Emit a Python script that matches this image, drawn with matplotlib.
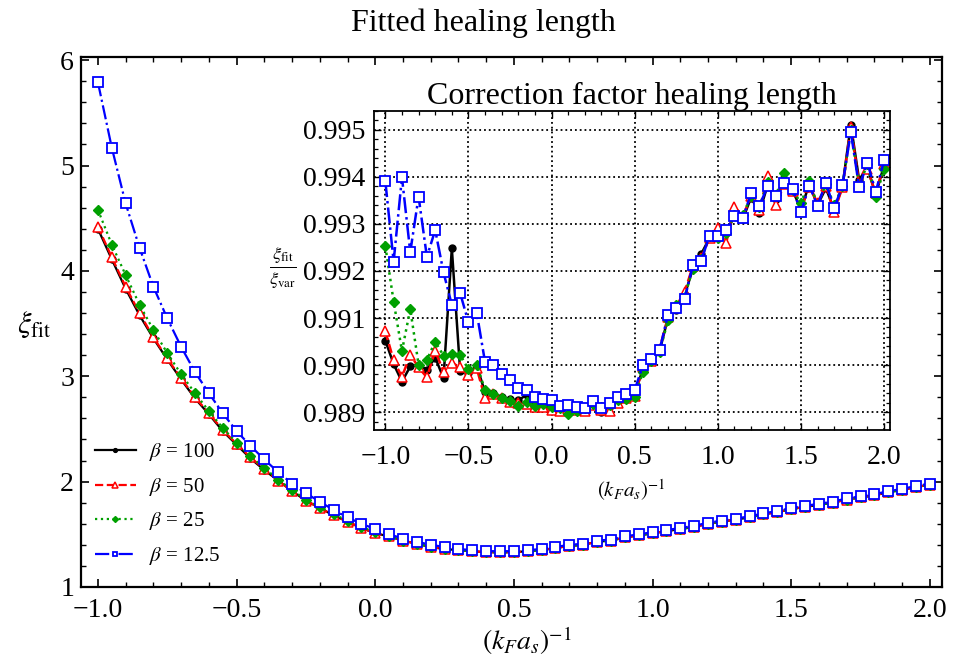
import numpy as np
import matplotlib
matplotlib.use("Agg")
import matplotlib.pyplot as plt
from matplotlib.ticker import MultipleLocator, FuncFormatter

plt.rcParams['font.family'] = ['Liberation Serif', 'DejaVu Serif']
plt.rcParams['mathtext.fontset'] = 'stix'

# x grid (k_F a_s)^-1, same for all series
x_vals = [-1.00, -0.95, -0.90, -0.85, -0.80, -0.75, -0.70, -0.65, -0.60, -0.55,
          -0.50, -0.45, -0.40, -0.35, -0.30, -0.25, -0.20, -0.15, -0.10, -0.05,
          0.00, 0.05, 0.10, 0.15, 0.20, 0.25, 0.30, 0.35, 0.40, 0.45,
          0.50, 0.55, 0.60, 0.65, 0.70, 0.75, 0.80, 0.85, 0.90, 0.95,
          1.00, 1.05, 1.10, 1.15, 1.20, 1.25, 1.30, 1.35, 1.40, 1.45,
          1.50, 1.55, 1.60, 1.65, 1.70, 1.75, 1.80, 1.85, 1.90, 1.95, 2.00]

labels = [r'$\beta$ = 100', r'$\beta$ = 50', r'$\beta$ = 25', r'$\beta$ = 12.5']

# fitted healing length (main plot)
xi_b100 = [4.40, 4.11, 3.83, 3.58, 3.36, 3.16, 2.97, 2.79, 2.64, 2.48,
           2.35, 2.22, 2.11, 2.01, 1.91, 1.82, 1.75, 1.68, 1.62, 1.56,
           1.51, 1.48, 1.44, 1.41, 1.38, 1.36, 1.35, 1.34, 1.33, 1.33,
           1.33, 1.34, 1.35, 1.37, 1.39, 1.40, 1.43, 1.44, 1.47, 1.49,
           1.51, 1.53, 1.55, 1.57, 1.60, 1.62, 1.64, 1.66, 1.69, 1.71,
           1.74, 1.76, 1.78, 1.80, 1.83, 1.85, 1.87, 1.90, 1.92, 1.95, 1.97]
xi_b50 = [4.42, 4.13, 3.85, 3.60, 3.37, 3.17, 2.98, 2.80, 2.65, 2.49,
          2.36, 2.23, 2.12, 2.01, 1.91, 1.82, 1.75, 1.68, 1.62, 1.56,
          1.51, 1.48, 1.44, 1.41, 1.38, 1.36, 1.35, 1.34, 1.33, 1.33,
          1.33, 1.34, 1.35, 1.37, 1.39, 1.40, 1.43, 1.44, 1.47, 1.49,
          1.51, 1.53, 1.55, 1.57, 1.60, 1.62, 1.64, 1.66, 1.69, 1.71,
          1.74, 1.76, 1.78, 1.80, 1.83, 1.85, 1.87, 1.90, 1.92, 1.95, 1.97]
xi_b25 = [4.58, 4.25, 3.96, 3.68, 3.44, 3.22, 3.02, 2.84, 2.67, 2.51,
          2.37, 2.24, 2.13, 2.02, 1.92, 1.83, 1.76, 1.69, 1.63, 1.57,
          1.52, 1.48, 1.44, 1.41, 1.38, 1.36, 1.35, 1.34, 1.33, 1.33,
          1.33, 1.34, 1.35, 1.37, 1.39, 1.40, 1.43, 1.44, 1.47, 1.49,
          1.51, 1.53, 1.55, 1.57, 1.60, 1.62, 1.64, 1.66, 1.69, 1.71,
          1.74, 1.76, 1.78, 1.80, 1.83, 1.85, 1.87, 1.90, 1.92, 1.95, 1.97]
xi_b12 = [5.79, 5.17, 4.64, 4.22, 3.85, 3.55, 3.28, 3.04, 2.84, 2.65,
          2.48, 2.34, 2.21, 2.09, 1.98, 1.89, 1.81, 1.73, 1.66, 1.60,
          1.55, 1.50, 1.46, 1.43, 1.40, 1.38, 1.36, 1.35, 1.34, 1.34,
          1.34, 1.35, 1.36, 1.38, 1.40, 1.41, 1.44, 1.45, 1.48, 1.50,
          1.52, 1.54, 1.56, 1.58, 1.61, 1.63, 1.65, 1.67, 1.70, 1.72,
          1.75, 1.77, 1.79, 1.81, 1.84, 1.86, 1.88, 1.91, 1.93, 1.96, 1.98]

# correction factor xi_fit / xi_var (inset)
cf_b100 = [0.99052, 0.99002, 0.98965, 0.98997, 0.99001, 0.98990, 0.99016, 0.98972, 0.99248, 0.98988,
           0.98984, 0.98998, 0.98942, 0.98940, 0.98932, 0.98927, 0.98925, 0.98937, 0.98915, 0.98914,
           0.98906, 0.98906, 0.98908, 0.98910, 0.98906, 0.98918, 0.98901, 0.98912, 0.98924, 0.98933,
           0.98940, 0.98992, 0.99010, 0.99030, 0.99100, 0.99118, 0.99148, 0.99205, 0.99236, 0.99270,
           0.99272, 0.99280, 0.99318, 0.99310, 0.99356, 0.99324, 0.99383, 0.99352, 0.99392, 0.99372,
           0.99330, 0.99385, 0.99340, 0.99376, 0.99330, 0.99380, 0.99511, 0.99394, 0.99420, 0.99362, 0.99425]
cf_b50 = [0.99072, 0.99010, 0.98975, 0.99022, 0.98995, 0.98974, 0.99030, 0.98986, 0.99005, 0.98995,
          0.98978, 0.98993, 0.98929, 0.98938, 0.98930, 0.98922, 0.98920, 0.98918, 0.98910, 0.98910,
          0.98905, 0.98903, 0.98906, 0.98905, 0.98902, 0.98915, 0.98904, 0.98903, 0.98920, 0.98930,
          0.98935, 0.98995, 0.99008, 0.99035, 0.99102, 0.99125, 0.99156, 0.99210, 0.99228, 0.99270,
          0.99291, 0.99259, 0.99337, 0.99315, 0.99360, 0.99330, 0.99401, 0.99340, 0.99385, 0.99370,
          0.99332, 0.99378, 0.99345, 0.99380, 0.99326, 0.99378, 0.99507, 0.99385, 0.99416, 0.99365, 0.99428]
cf_b25 = [0.99253, 0.99135, 0.99030, 0.99119, 0.99001, 0.99011, 0.99050, 0.99020, 0.99023, 0.99022,
          0.98991, 0.99001, 0.98947, 0.98938, 0.98931, 0.98924, 0.98912, 0.98922, 0.98913, 0.98917,
          0.98910, 0.98908, 0.98895, 0.98902, 0.98908, 0.98918, 0.98910, 0.98915, 0.98925, 0.98928,
          0.98933, 0.98985, 0.99008, 0.99028, 0.99095, 0.99128, 0.99145, 0.99205, 0.99225, 0.99275,
          0.99270, 0.99280, 0.99320, 0.99318, 0.99360, 0.99335, 0.99390, 0.99362, 0.99408, 0.99372,
          0.99344, 0.99392, 0.99340, 0.99385, 0.99340, 0.99380, 0.99500, 0.99380, 0.99428, 0.99357, 0.99416]
cf_b12 = [0.99391, 0.99220, 0.99399, 0.99240, 0.99358, 0.99230, 0.99287, 0.99197, 0.99128, 0.99153,
          0.99091, 0.99111, 0.99006, 0.99001, 0.98980, 0.98968, 0.98952, 0.98948, 0.98932, 0.98927,
          0.98925, 0.98913, 0.98916, 0.98911, 0.98909, 0.98923, 0.98908, 0.98920, 0.98932, 0.98939,
          0.98947, 0.99000, 0.99012, 0.99032, 0.99107, 0.99122, 0.99140, 0.99212, 0.99222, 0.99275,
          0.99275, 0.99287, 0.99316, 0.99312, 0.99365, 0.99338, 0.99381, 0.99360, 0.99388, 0.99374,
          0.99326, 0.99381, 0.99339, 0.99387, 0.99333, 0.99382, 0.99496, 0.99378, 0.99430, 0.99368, 0.99435]

green = '#00a000'
styles = [
    dict(color='black', ls='-', marker='o', ms=5, mfc='black', mew=1.0),
    dict(color='red', ls='--', marker='^', ms=7, mfc='white', mew=1.1),
    dict(color=green, ls=':', marker='D', ms=5.5, mfc=green, mew=1.0),
    dict(color='blue', ls='-.', marker='s', ms=6.5, mfc='white', mew=1.3),
]

def fmt(decimals):
    # real minus sign like the original
    return FuncFormatter(lambda v, pos: f'{v:.{decimals}f}'.replace('-', '\u2212'))

fig = plt.figure(figsize=(9.62, 6.70), dpi=100)

# main axes
ax = fig.add_axes([0.0842, 0.1239, 0.8948, 0.7910])
for ys, st, lab in zip([xi_b100, xi_b50, xi_b25, xi_b12], styles, labels):
    ax.plot(x_vals, ys, lw=1.6, label=lab, **st)
ax.set_xlim(-1.061, 2.043)
ax.set_ylim(1, 6.03)
ax.xaxis.set_major_locator(MultipleLocator(0.5))
ax.xaxis.set_minor_locator(MultipleLocator(0.1))
ax.yaxis.set_major_locator(MultipleLocator(1))
ax.yaxis.set_minor_locator(MultipleLocator(0.2))
ax.xaxis.set_major_formatter(fmt(1))
ax.yaxis.set_major_formatter(fmt(0))
ax.tick_params(which='both', direction='in', top=True, right=True, labelsize=20)
ax.tick_params(which='major', length=6, width=1.2)
ax.tick_params(axis='x', which='major', pad=8)
ax.tick_params(axis='y', which='major', pad=5)
ax.tick_params(which='minor', length=3.5, width=1.0)
for sp in ax.spines.values():
    sp.set_linewidth(1.6)

leg = ax.legend(loc='upper left', bbox_to_anchor=(-0.006, 0.31), frameon=False,
                fontsize=15, handlelength=2.0, handletextpad=0.6,
                labelspacing=0.6, markerscale=0.55)

fig.text(0.503, 0.965, 'Fitted healing length', ha='center', va='center', fontsize=23)
fig.text(0.036, 0.515, r'$\xi_{\rm fit}$', ha='center', va='center', fontsize=22)
fig.text(0.548, 0.043, r'$(k_F a_s)^{-1}$', ha='center', va='center', fontsize=20)

# inset
ins = fig.add_axes([0.3888, 0.3582, 0.5364, 0.4761])
for ys, st in zip([cf_b100, cf_b50, cf_b25, cf_b12], styles):
    ins.plot(x_vals, ys, lw=1.8, **st)
ins.set_xlim(-1.068, 2.036)
ins.set_ylim(0.98862, 0.99540)
ins.xaxis.set_major_locator(MultipleLocator(0.5))
ins.xaxis.set_minor_locator(MultipleLocator(0.1))
ins.yaxis.set_major_locator(MultipleLocator(0.001))
ins.yaxis.set_minor_locator(MultipleLocator(0.0002))
ins.xaxis.set_major_formatter(fmt(1))
ins.yaxis.set_major_formatter(fmt(3))
ins.tick_params(which='both', direction='in', top=True, right=True, labelsize=20)
ins.tick_params(which='major', length=5, width=1.0)
ins.tick_params(axis='x', which='major', pad=11)
ins.tick_params(axis='y', which='major', pad=6)
ins.tick_params(which='minor', length=3, width=0.9)
ins.grid(True, which='major', color='black', ls=':', lw=1.3)
ins.set_axisbelow(True)
for sp in ins.spines.values():
    sp.set_linewidth(1.3)
ins.set_title('Correction factor healing length', fontsize=23, pad=4)
fig.text(0.2945, 0.6, r'$\frac{\xi_{\rm fit}}{\xi_{\rm var}}$', ha='center', va='center', fontsize=19)
fig.text(0.656, 0.268, r'$(k_F a_s)^{-1}$', ha='center', va='center', fontsize=15)

fig.savefig('out.png', dpi=100)
